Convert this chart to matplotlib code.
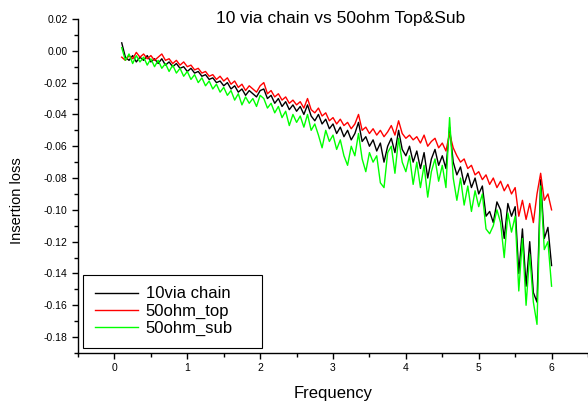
import matplotlib.pyplot as plt
import numpy as np
from matplotlib.ticker import MultipleLocator

# insertion loss, 0.10 .. 6.00 in 0.05 steps
via_chain = [
    0.005, -0.004, -0.006, -0.003, -0.007, -0.004, -0.006, -0.003, -0.007, -0.005,
    -0.008, -0.005, -0.009, -0.007, -0.010, -0.008, -0.011, -0.010, -0.013, -0.011,
    -0.014, -0.013, -0.016, -0.015, -0.018, -0.017, -0.020, -0.019, -0.022, -0.020,
    -0.024, -0.022, -0.026, -0.024, -0.028, -0.025, -0.027, -0.029, -0.025, -0.024,
    -0.030, -0.028, -0.033, -0.030, -0.035, -0.032, -0.037, -0.034, -0.038, -0.035,
    -0.040, -0.034, -0.041, -0.044, -0.040, -0.046, -0.043, -0.049, -0.046, -0.052,
    -0.048, -0.054, -0.050, -0.056, -0.052, -0.045, -0.057, -0.054, -0.060, -0.056,
    -0.063, -0.058, -0.070, -0.060, -0.055, -0.064, -0.050, -0.062, -0.066, -0.060,
    -0.070, -0.063, -0.074, -0.064, -0.080, -0.068, -0.062, -0.072, -0.066, -0.074,
    -0.048, -0.070, -0.078, -0.073, -0.084, -0.077, -0.086, -0.080, -0.090, -0.085,
    -0.104, -0.101, -0.108, -0.095, -0.100, -0.118, -0.096, -0.104, -0.098, -0.140,
    -0.112, -0.148, -0.120, -0.152, -0.158, -0.081, -0.118, -0.111, -0.135]

ohm_top = [
    -0.004, -0.006, -0.003, -0.005, -0.001, -0.004, -0.002, -0.005, -0.003, -0.006,
    -0.004, -0.002, -0.006, -0.005, -0.008, -0.006, -0.009, -0.007, -0.010, -0.009,
    -0.012, -0.011, -0.014, -0.013, -0.016, -0.015, -0.018, -0.016, -0.019, -0.017,
    -0.021, -0.019, -0.023, -0.021, -0.025, -0.022, -0.024, -0.026, -0.022, -0.020,
    -0.027, -0.025, -0.029, -0.027, -0.031, -0.029, -0.033, -0.031, -0.034, -0.032,
    -0.036, -0.030, -0.037, -0.039, -0.036, -0.041, -0.039, -0.044, -0.042, -0.046,
    -0.043, -0.047, -0.045, -0.049, -0.046, -0.040, -0.050, -0.048, -0.052, -0.049,
    -0.053, -0.050, -0.054, -0.051, -0.047, -0.053, -0.044, -0.052, -0.055, -0.053,
    -0.056, -0.054, -0.058, -0.053, -0.060, -0.057, -0.055, -0.061, -0.058, -0.063,
    -0.052, -0.061, -0.066, -0.070, -0.068, -0.074, -0.072, -0.078, -0.076, -0.081,
    -0.078, -0.084, -0.080, -0.086, -0.082, -0.088, -0.084, -0.090, -0.086, -0.104,
    -0.094, -0.106, -0.096, -0.108, -0.090, -0.077, -0.094, -0.090, -0.100]

ohm_sub = [
    0.002, -0.006, -0.002, -0.008, -0.003, -0.007, -0.004, -0.009, -0.005, -0.010,
    -0.006, -0.011, -0.008, -0.013, -0.009, -0.014, -0.011, -0.016, -0.013, -0.018,
    -0.015, -0.020, -0.017, -0.022, -0.019, -0.024, -0.021, -0.026, -0.023, -0.028,
    -0.025, -0.031, -0.027, -0.034, -0.029, -0.033, -0.030, -0.035, -0.028, -0.030,
    -0.036, -0.033, -0.039, -0.035, -0.042, -0.038, -0.047, -0.040, -0.045, -0.041,
    -0.048, -0.040, -0.050, -0.046, -0.053, -0.061, -0.050, -0.057, -0.053, -0.062,
    -0.056, -0.066, -0.072, -0.060, -0.066, -0.052, -0.068, -0.076, -0.064, -0.070,
    -0.066, -0.083, -0.086, -0.064, -0.060, -0.077, -0.055, -0.070, -0.076, -0.066,
    -0.084, -0.070, -0.086, -0.072, -0.092, -0.076, -0.068, -0.082, -0.072, -0.086,
    -0.042, -0.080, -0.094, -0.080, -0.097, -0.085, -0.101, -0.088, -0.098, -0.090,
    -0.112, -0.115, -0.110, -0.100, -0.108, -0.130, -0.102, -0.114, -0.104, -0.151,
    -0.118, -0.160, -0.128, -0.158, -0.172, -0.085, -0.125, -0.120, -0.148]

freq = np.linspace(0.10, 6.00, len(ohm_top))

plt.rcParams['font.family'] = ['Liberation Sans', 'DejaVu Sans']

fig = plt.figure(figsize=(5.88, 4.05), dpi=100)
ax = fig.add_axes([0.1327, 0.1284, 0.8673, 0.8247])

ax.plot(freq, via_chain, color='black', lw=1.0, label='10via chain')
ax.plot(freq, ohm_top, color='#ff0000', lw=1.0, label='50ohm_top')
ax.plot(freq, ohm_sub, color='#00ff00', lw=1.0, label='50ohm_sub')

ax.set_xlim(-0.5, 6.5)
ax.set_ylim(-0.19, 0.02)
ax.xaxis.set_major_locator(MultipleLocator(1))
ax.xaxis.set_minor_locator(MultipleLocator(0.5))
ax.yaxis.set_major_locator(MultipleLocator(0.02))
ax.yaxis.set_minor_locator(MultipleLocator(0.01))
ax.yaxis.set_major_formatter(plt.FuncFormatter(lambda v, p: '%.2f' % v))

for s in ['top', 'right']:
    ax.spines[s].set_visible(False)
for s in ['left', 'bottom']:
    ax.spines[s].set_linewidth(1.0)
ax.tick_params(which='major', direction='out', length=4, width=1, labelsize=7.5)
ax.tick_params(which='minor', direction='out', length=3, width=1)

ax.set_xlabel('Frequency', fontsize=12)
ax.set_ylabel('Insertion loss', fontsize=10.5)
ax.xaxis.set_label_coords(0.5, -0.1)
ax.yaxis.set_label_coords(-0.106, 0.455)

fig.text(0.579, 0.955, '10 via chain vs 50ohm Top&Sub', fontsize=12.5,
         ha='center', va='center')

leg = ax.legend(loc='lower left', bbox_to_anchor=(83 / 588, 0.1407, 179 / 588, 0),
                bbox_transform=fig.transFigure, mode='expand', fontsize=12,
                fancybox=False, framealpha=1, edgecolor='black',
                handlelength=2.6, handletextpad=0.45, labelspacing=0.14,
                borderpad=0.7, borderaxespad=0)
leg.get_frame().set_linewidth(0.8)

plt.savefig('out.png')
